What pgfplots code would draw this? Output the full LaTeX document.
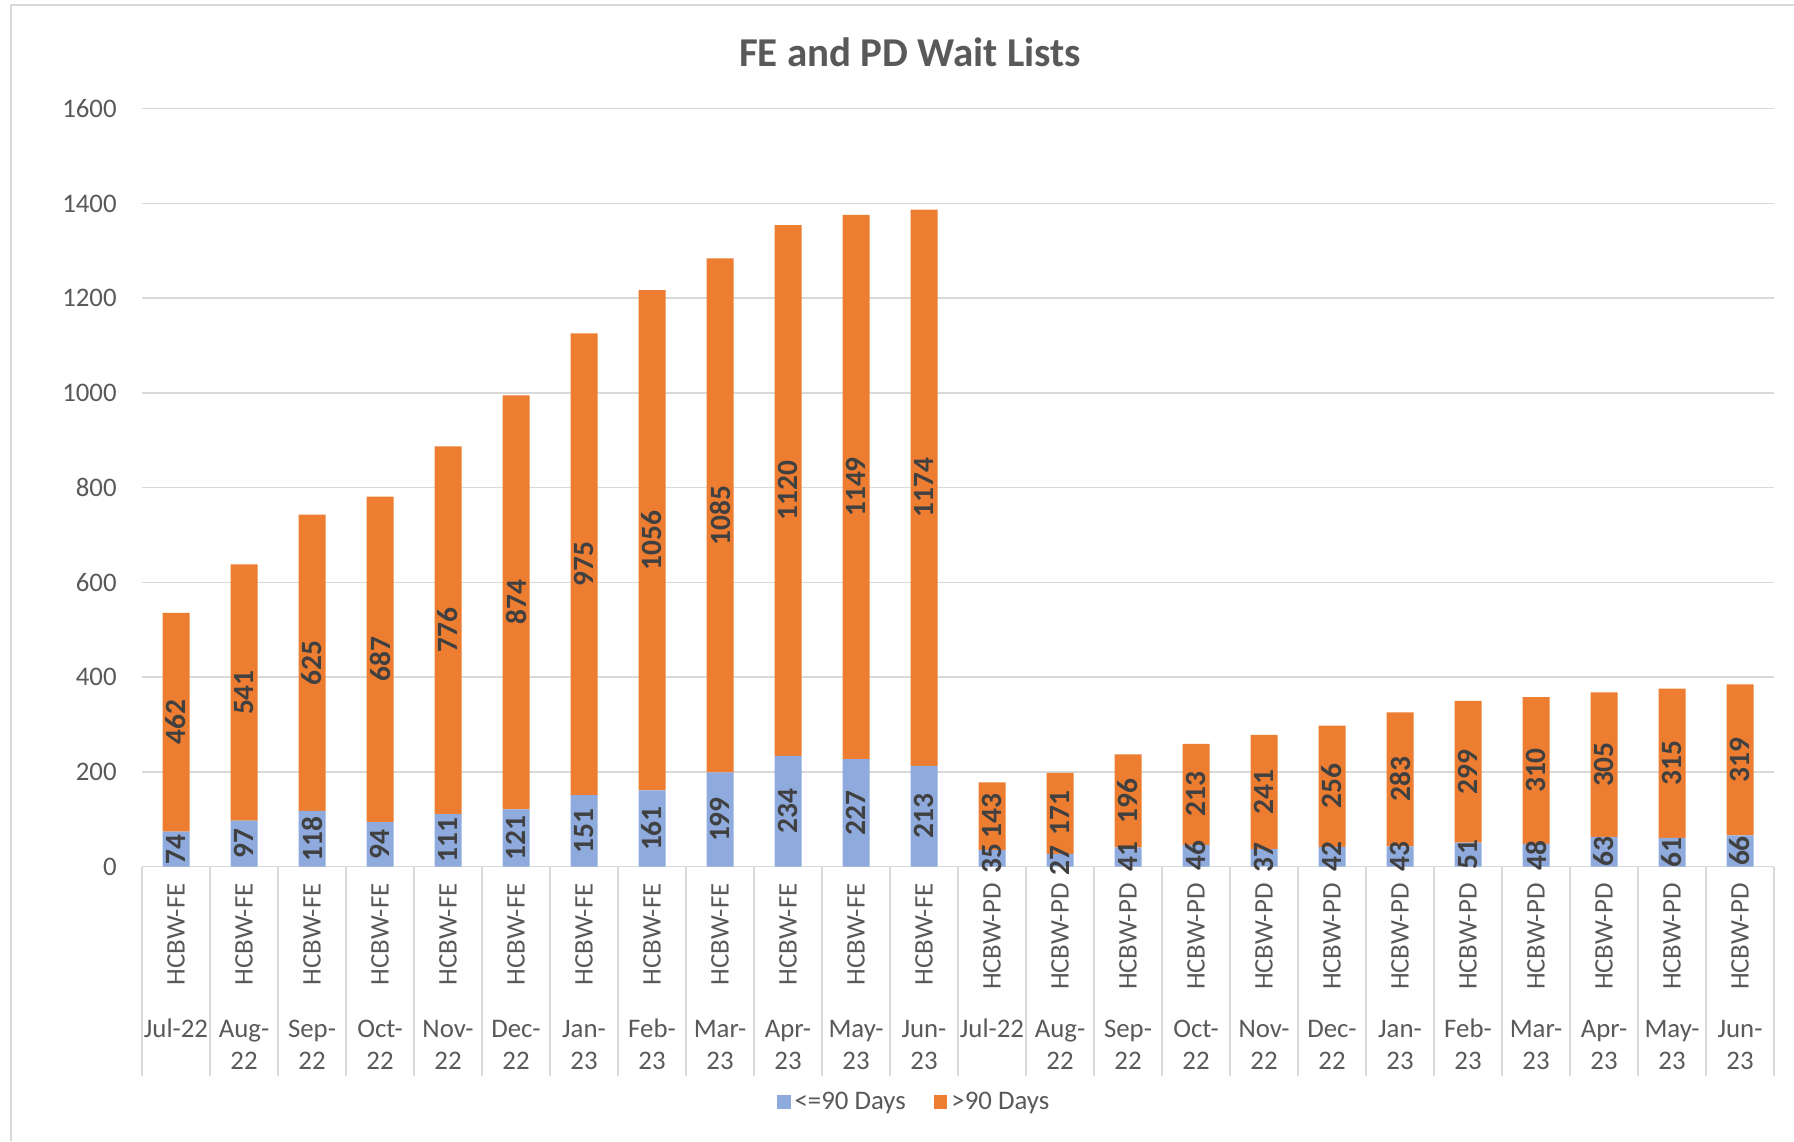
\documentclass[border=0pt]{standalone}
\usepackage{fontspec}
\setmainfont{Carlito}
\usepackage{pgfplots}
\usepackage{pgfplotstable}
\pgfplotsset{compat=1.18}
\pgfplotsset{/pgf/number format/assume math mode=true, /pgf/number format/1000 sep={}}
\definecolor{gridgrey}{HTML}{D9D9D9}
\definecolor{textgrey}{HTML}{595959}
\definecolor{labelgrey}{HTML}{404040}
\definecolor{pdblue}{HTML}{8FAADC}
\definecolor{pdorange}{HTML}{ED7D31}

\pgfplotstableread{
x lo hi
0 74 462
1 97 541
2 118 625
3 94 687
4 111 776
5 121 874
6 151 975
7 161 1056
8 199 1085
9 234 1120
10 227 1149
11 213 1174
12 35 143
13 27 171
14 41 196
15 46 213
16 37 241
17 42 256
18 43 283
19 51 299
20 48 310
21 63 305
22 61 315
23 66 319
}\data

\pgfplotsset{
  common/.style={
    at={(71pt,137.15pt)}, anchor=south west,
    scale only axis, width=816pt, height=379pt,
    xmin=-0.5, xmax=23.5, ymin=0, ymax=1600,
  },
}

\begin{document}
\begin{tikzpicture}
\path[use as bounding box] (0,0) rectangle (897pt,570.5pt);
\draw[gridgrey, line width=0.8pt] (5.35pt,0) -- (5.35pt,567.85pt) -- (897pt,567.85pt);
\node[anchor=base, font=\fontsize{20.5}{24}\selectfont\bfseries, text=textgrey, inner sep=0pt] at (455pt,537.15pt) {FE and PD Wait Lists};

% month labels (second level)
\begin{axis}[
  common,
  axis line style={draw=none},
  ytick=\empty,
  xtick={0,...,23},
  tick style={draw=none}, major tick length=0pt,
  xticklabels={{Jul-22\\\mbox{}},{Aug-\\22},{Sep-\\22},{Oct-\\22},{Nov-\\22},{Dec-\\22},{Jan-\\23},{Feb-\\23},{Mar-\\23},{Apr-\\23},{May-\\23},{Jun-\\23},
               {Jul-22\\\mbox{}},{Aug-\\22},{Sep-\\22},{Oct-\\22},{Nov-\\22},{Dec-\\22},{Jan-\\23},{Feb-\\23},{Mar-\\23},{Apr-\\23},{May-\\23},{Jun-\\23}},
  xticklabel style={anchor=north, align=center, inner sep=0pt, text height=9.6pt, yshift=-91.4pt,
    font=\fontsize{13.4}{16}\selectfont, text=textgrey},
]
\end{axis}

\begin{axis}[
  common,
  ybar stacked, bar width=13.5pt,
  ytick={0,200,...,1600},
  xtick={0,...,23},
  xticklabels={HCBW-FE,HCBW-FE,HCBW-FE,HCBW-FE,HCBW-FE,HCBW-FE,HCBW-FE,HCBW-FE,HCBW-FE,HCBW-FE,HCBW-FE,HCBW-FE,
               HCBW-PD,HCBW-PD,HCBW-PD,HCBW-PD,HCBW-PD,HCBW-PD,HCBW-PD,HCBW-PD,HCBW-PD,HCBW-PD,HCBW-PD,HCBW-PD},
  ymajorgrids, major grid style={gridgrey, line width=0.75pt},
  axis line style={draw=none},
  tick style={draw=none}, major tick length=0pt,
  ticklabel style={font=\fontsize{13.4}{16}\selectfont, text=textgrey},
  yticklabel style={anchor=east, inner sep=0pt, xshift=-12.5pt},
  xticklabel style={yshift=-8.2pt, rotate=90, anchor=east, inner sep=0pt},
  clip=false,
  legend columns=-1,
  legend style={at={(0.4737,-0.3104)}, anchor=center, draw=none, fill=none,
    font=\fontsize{13.4}{16}\selectfont, text=textgrey,
    /tikz/every even column/.append style={column sep=12pt}},
  legend image code/.code={\fill[#1] (0pt,-3.42pt) rectangle (6.85pt,3.42pt);},
]
\pgfplotsinvokeforeach{-0.5,0.5,...,23.5}{
  \draw[gridgrey, line width=0.75pt] (axis cs:#1,0) -- ([yshift=-104.5pt]axis cs:#1,0);
}
\addplot[fill=pdblue, draw=none] table[x=x, y=lo]{\data};
\addlegendentry{<=90 Days}
\addplot[fill=pdorange, draw=none] table[x=x, y=hi]{\data};
\addlegendentry{>90 Days}
\end{axis}

% data labels, centred in each segment
\begin{axis}[
  common, hide axis, clip=false,
  every node near coord/.append style={rotate=90, anchor=center,
    font=\fontsize{14.7}{17}\selectfont\bfseries, text=labelgrey, inner sep=0pt},
]
\addplot[draw=none, mark=none, nodes near coords, point meta=explicit]
  table[x=x, y expr=\thisrow{lo}/2, meta=lo]{\data};
\addplot[draw=none, mark=none, nodes near coords, point meta=explicit]
  table[x=x, y expr=\thisrow{lo}+\thisrow{hi}/2, meta=hi]{\data};
\end{axis}
\end{tikzpicture}
\end{document}
